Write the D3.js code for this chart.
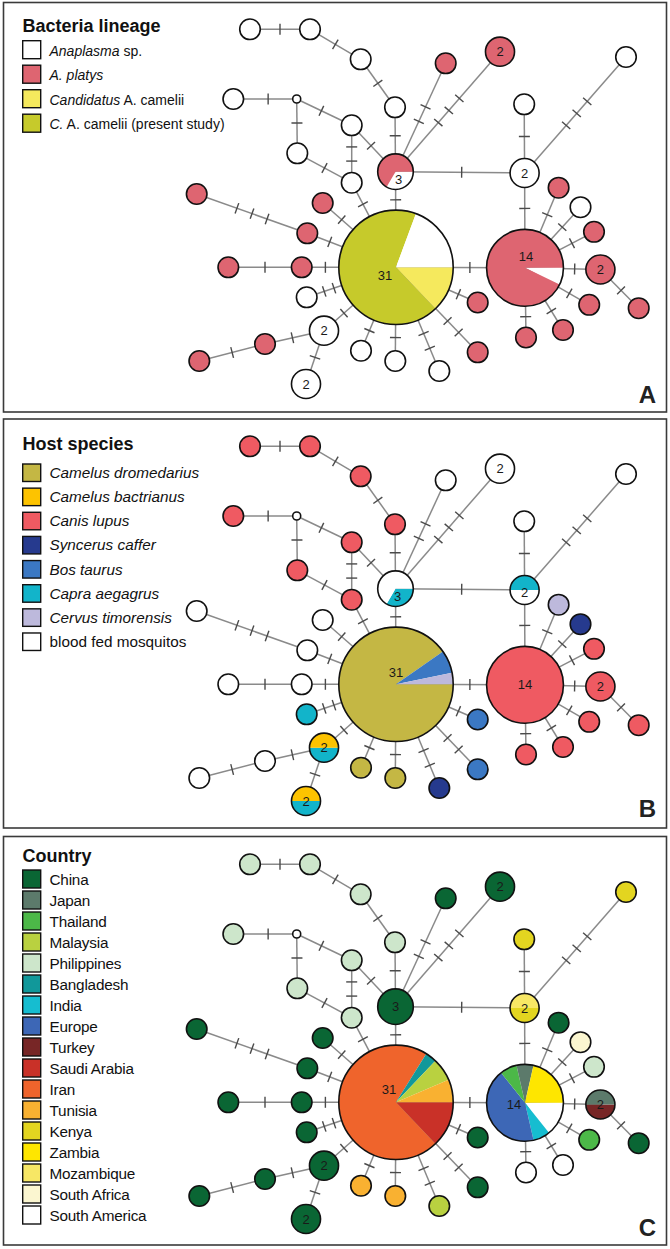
<!DOCTYPE html>
<html><head><meta charset="utf-8">
<script src="https://cdn.jsdelivr.net/npm/d3@7"></script>
<style>
body{margin:0;background:#fff}
svg{display:block}
text{font-family:"Liberation Sans",Arial,Helvetica,sans-serif}
</style>
</head><body>
<svg id="chart" width="670" height="1249"></svg>
<script>
// ---------------- DATA ----------------
const haplotypes = d3.range(40).map(i => "H" + (i + 1));
const counts = [31,14,3,2,1,1,2,1,1,1, 1,1,0,1,1,1,1,1,1,1, 1,1,1,2,1,1,2,1,1,1, 1,1,1,1,1,2,1,1,1,1];

// network layout (panel-local layout units)
const layoutX = [396,525,395.5,524.6,524.2,626,500,445.7,395,360.7, 310,250,296.7,233.3,351.7,297.3,351.7,196.7,307.3,322.7,
                 228.3,301.7,306.7,324,265,199.3,306,361,395.3,439.3, 477.7,477.7,558.6,580.5,594,600.4,638.7,589.2,563,526];
const layoutY = [267.3,267.8,171.7,173,104.3,57,51.7,63.3,107.3,59.3, 29.3,29.3,99,99,125.3,153.3,182.7,194,233.3,203,
                 267.3,267.3,297.3,330.7,344,361,384,350.7,361,371, 352.3,302.5,187.7,207.2,231.8,269.5,308.2,304.8,330,337.5];

// edges: [source, target, mutation steps]
const edges = [[11,10,1],[10,9,1],[9,8,1],[8,2,1],[2,0,1],[2,7,2],[2,6,3],[2,3,1],[3,4,1],[3,5,3],[3,1,1],[0,1,1],
  [12,13,1],[12,14,1],[12,15,1],[14,2,1],[14,16,2],[15,16,1],[16,0,1],[17,18,3],[18,0,1],[19,0,1],[20,21,1],[21,0,1],
  [22,0,2],[23,0,1],[24,23,1],[25,24,1],[26,23,1],[27,0,1],[28,0,1],[29,0,2],[30,0,2],[31,0,1],
  [32,1,1],[33,1,1],[34,1,1],[35,1,1],[36,35,1],[37,1,1],[38,1,1],[39,1,1]];

// Panel A: bacteria lineage
const lineageCats = ["Anaplasma sp.","A. platys","Candidatus A. camelii","C. A. camelii (present study)"];
const lineageColors = ["#ffffff","#de6571","#f5e95d","#c6ca2b"];
const lineageComp = [
 [[2,4],[3,21],[0,6]], [[0,1],[1,13]], [[0,1],[1,2]], [[0,2]], [[0,1]], [[0,1]], [[1,2]], [[1,1]],
 [[0,1]],[[0,1]],[[0,1]],[[0,1]], [[0,0]], [[0,1]],[[0,1]],[[0,1]],[[0,1]],
 [[1,1]],[[1,1]],[[1,1]],[[1,1]],[[1,1]], [[0,1]], [[0,2]], [[1,1]],[[1,1]], [[0,2]],
 [[0,1]],[[0,1]],[[0,1]], [[1,1]],[[1,1]],
 [[1,1]],[[0,1]],[[1,1]],[[1,2]],[[1,1]],[[1,1]],[[1,1]],[[1,1]]
];

// Panel B: host species
const hostCats = ["Camelus dromedarius","Camelus bactrianus","Canis lupus","Syncerus caffer","Bos taurus","Capra aegagrus","Cervus timorensis","blood fed mosquitos"];
const hostColors = ["#c4b744","#fdc300","#ef5a62","#263a8e","#3b78c3","#12b4ca","#bdb9dc","#ffffff"];
const hostComp = [
 [[0,28],[4,2],[6,1]], [[2,14]], [[5,1],[7,2]], [[7,1],[5,1]], [[7,1]], [[7,1]], [[7,2]], [[7,1]],
 [[2,1]],[[2,1]],[[2,1]],[[2,1]], [[7,0]], [[2,1]],[[2,1]],[[2,1]],[[2,1]],
 [[7,1]],[[7,1]],[[7,1]],[[7,1]],[[7,1]], [[5,1]], [[5,1],[1,1]], [[7,1]],[[7,1]], [[5,1],[1,1]],
 [[0,1]],[[0,1]],[[3,1]], [[4,1]],[[4,1]],
 [[6,1]],[[3,1]],[[2,1]],[[2,2]],[[2,1]],[[2,1]],[[2,1]],[[2,1]]
];

// Panel C: country
const countryCats = ["China","Japan","Thailand","Malaysia","Philippines","Bangladesh","India","Europe","Turkey","Saudi Arabia","Iran","Tunisia","Kenya","Zambia","Mozambique","South Africa","South America"];
const countryColors = ["#0a6634","#5c7a6b","#4cb848","#b9d140","#cde6cb","#11989a","#16bdd0","#3d67b6","#772626","#c93128","#ef642c","#f9b131","#e3d520","#fee600","#f7e765","#fbf6d0","#ffffff"];
const countryComp = [
 [[9,4],[10,22],[5,1],[3,2],[11,2]], [[16,2],[6,1],[7,6],[2,1],[1,1],[13,3]], [[0,3]], [[12,1],[14,1]], [[12,1]], [[12,1]], [[0,2]], [[0,1]],
 [[4,1]],[[4,1]],[[4,1]],[[4,1]], [[16,0]], [[4,1]],[[4,1]],[[4,1]],[[4,1]],
 [[0,1]],[[0,1]],[[0,1]],[[0,1]],[[0,1]], [[0,1]], [[0,2]], [[0,1]],[[0,1]], [[0,2]],
 [[11,1]],[[11,1]],[[3,1]], [[0,1]],[[0,1]],
 [[0,1]],[[15,1]],[[4,1]],[[8,1],[1,1]],[[0,1]],[[2,1]],[[16,1]],[[16,1]]
];

// ---------------- DRAW ----------------
const svg = d3.select("#chart");
const rScale = d3.scaleSqrt().domain([0, 31]).range([0, 57.2]);
const rad = i => counts[i] === 0 ? 4 : rScale(counts[i]);

const panels = [
  {top:2.5, h:409.5, off:0, title:"Bacteria lineage", cats:lineageCats, colors:lineageColors, comp:lineageComp,
   letter:"A", letterY:402.5, legY0:40.7, pitch:24.5, sq:18, fs:14, txtDy:15, titleY:31.5, italic:"A",
   labelOff:{0:[-11,8],1:[1,-11],2:[3,8]}},
  {top:419, h:409, off:417, title:"Host species", cats:hostCats, colors:hostColors, comp:hostComp,
   letter:"B", letterY:817, legY0:464, pitch:24.14, sq:17.5, fs:15.3, txtDy:14, titleY:450.3, italic:"B",
   labelOff:{0:[0,-12],2:[2,8],3:[0,2]}},
  {top:836.5, h:408.5, off:835, title:"Country", cats:countryCats, colors:countryColors, comp:countryComp,
   letter:"C", letterY:1236, legY0:870, pitch:21, sq:18, fs:15.3, txtDy:15, titleY:861.7, italic:"C",
   labelOff:{0:[-7,-13],1:[-11,2]}}
];

panels.forEach(p => {
  const g = svg.append("g");
  g.append("rect").attr("x",3.5).attr("y",p.top).attr("width",663).attr("height",p.h)
    .attr("fill","#fff").attr("stroke","#3a3a3a").attr("stroke-width",1.6);

  const xS = d3.scaleLinear().domain([0,670]).range([0,670]);
  const yS = d3.scaleLinear().domain([0,420]).range([p.off, p.off+420]);
  const X = i => xS(layoutX[i]), Y = i => yS(layoutY[i]);

  // edges
  const eg = g.append("g");
  edges.forEach(([s,t,m]) => {
    const x1=X(s), y1=Y(s), x2=X(t), y2=Y(t);
    eg.append("line").attr("x1",x1).attr("y1",y1).attr("x2",x2).attr("y2",y2)
      .attr("stroke","#8a8a8a").attr("stroke-width",1.5);
    const L = Math.hypot(x2-x1,y2-y1), ux=(x2-x1)/L, uy=(y2-y1)/L, vx=-uy, vy=ux;
    const ra = rad(s), rb = rad(t), seg = L-ra-rb;
    const mid = ra + seg/2;
    const sp = Math.min(16, seg/(m+0.6));
    for (let k=0;k<m;k++){
      const d = mid + (k-(m-1)/2)*sp;
      const px = x1+ux*d, py = y1+uy*d;
      eg.append("line").attr("x1",px-vx*5.5).attr("y1",py-vy*5.5).attr("x2",px+vx*5.5).attr("y2",py+vy*5.5)
        .attr("stroke","#4a4a4a").attr("stroke-width",1.4);
    }
  });

  // nodes
  const pie = d3.pie().sort(null).value(d=>d[1]).startAngle(Math.PI/2).endAngle(Math.PI/2+2*Math.PI);
  const ng = g.append("g");
  haplotypes.forEach((h,i) => {
    const r = rad(i), comp = p.comp[i];
    const node = ng.append("g").attr("transform",`translate(${X(i)},${Y(i)})`);
    if (comp.length === 1) {
      node.append("circle").attr("r",r).attr("fill",p.colors[comp[0][0]]);
    } else {
      const arc = d3.arc().innerRadius(0).outerRadius(r);
      node.selectAll("path").data(pie(comp)).join("path").attr("d",arc)
        .attr("fill",d=>p.colors[d.data[0]]);
    }
    node.append("circle").attr("r",r).attr("fill","none").attr("stroke","#111").attr("stroke-width",1.6);
    if (counts[i] >= 2) {
      const o = p.labelOff[i] || [0,0];
      node.append("text").attr("x",o[0]).attr("y",o[1]).attr("dy","0.36em").attr("text-anchor","middle")
        .attr("font-size",13).attr("fill","#1a1a1a").text(counts[i]);
    }
  });

  // legend
  const lg = g.append("g");
  lg.append("text").attr("x",22.5).attr("y",p.titleY).attr("font-size",18).attr("font-weight","bold")
    .attr("fill","#111").text(p.title);
  p.cats.forEach((c,k) => {
    const y = p.legY0 + k*p.pitch;
    lg.append("rect").attr("x",22.7).attr("y",y).attr("width",18).attr("height",p.sq)
      .attr("fill",p.colors[k]).attr("stroke","#111").attr("stroke-width",1.4);
    const t = lg.append("text").attr("x",49.5).attr("y",y+p.txtDy).attr("font-size",p.fs).attr("fill","#111");
    if (p.italic === "A") {
      if (k===0){ t.append("tspan").attr("font-style","italic").text("Anaplasma"); t.append("tspan").text(" sp."); }
      else if (k===1){ t.append("tspan").attr("font-style","italic").text("A. platys"); }
      else if (k===2){ t.append("tspan").attr("font-style","italic").text("Candidatus"); t.append("tspan").text(" A. camelii"); }
      else { t.append("tspan").attr("font-style","italic").text("C."); t.append("tspan").text(" A. camelii (present study)"); }
    } else if (p.italic === "B") {
      t.attr("font-style", k===7 ? "normal" : "italic").text(c);
    } else {
      t.attr("letter-spacing",-0.2).text(c);
    }
  });

  g.append("text").attr("x",656).attr("y",p.letterY).attr("text-anchor","end").attr("font-size",24)
    .attr("font-weight","bold").attr("fill","#222").text(p.letter);
});
</script>
</body></html>
